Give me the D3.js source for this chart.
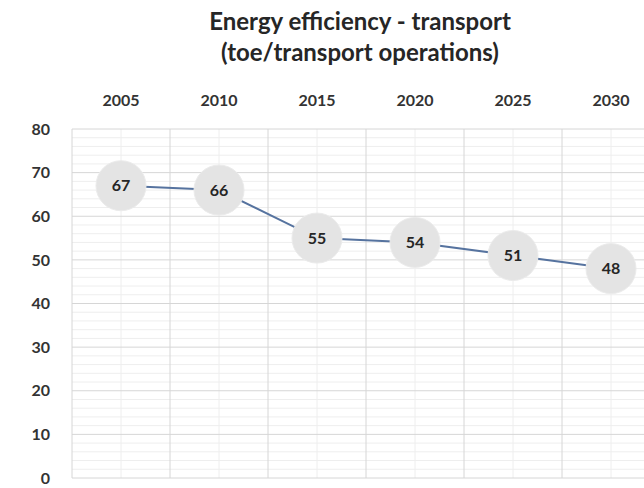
<!DOCTYPE html>
<html>
<head>
<meta charset="utf-8">
<script src="https://cdn.jsdelivr.net/npm/d3@7"></script>
<style>
  html, body { margin: 0; padding: 0; background: #fff; }
  svg { display: block; }
</style>
</head>
<body>
<svg id="chart" width="644" height="488"></svg>
<script>
const titleLines = ["Energy efficiency - transport", "(toe/transport operations)"];
const years = ["2005", "2010", "2015", "2020", "2025", "2030"];
const values = [67, 66, 55, 54, 51, 48];
const yTicks = [0, 10, 20, 30, 40, 50, 60, 70, 80];
const yMinorTicks = d3.range(0, 81, 2);

(function () {
const svg = d3.select("#chart");
const plotLeft = 72, bandW = 98, plotTop = 129, plotBottom = 478;

const x = d3.scaleBand().domain(years).range([plotLeft, plotLeft + bandW * years.length]).padding(0);
const y = d3.scaleLinear().domain([0, 80]).range([plotBottom, plotTop]);

const fontFam = "Lato, 'Open Sans', 'Noto Sans', sans-serif";

svg.append("g").selectAll("text").data(titleLines).join("text")
  .attr("x", 360).attr("y", (d, i) => 30 + i * 31)
  .attr("text-anchor", "middle")
  .attr("font-family", fontFam).attr("font-weight", 700)
  .attr("font-size", 24).attr("fill", "#262626")
  .text(d => d);

const grid = svg.append("g");
grid.selectAll(".hmin").data(yMinorTicks.filter(v => v % 10 !== 0)).join("line")
  .attr("x1", plotLeft).attr("x2", 644)
  .attr("y1", d => y(d)).attr("y2", d => y(d))
  .attr("stroke", "#eeeeee").attr("stroke-width", 1);
grid.selectAll(".vmin").data(years).join("line")
  .attr("x1", d => x(d) + x.bandwidth() / 2).attr("x2", d => x(d) + x.bandwidth() / 2)
  .attr("y1", plotTop).attr("y2", plotBottom)
  .attr("stroke", "#eeeeee").attr("stroke-width", 1);
grid.selectAll(".hmaj").data(yTicks).join("line")
  .attr("x1", plotLeft).attr("x2", 644)
  .attr("y1", d => y(d)).attr("y2", d => y(d))
  .attr("stroke", "#d6d6d6").attr("stroke-width", 1);
grid.selectAll(".vmaj").data(years).join("line")
  .attr("x1", d => x(d)).attr("x2", d => x(d))
  .attr("y1", plotTop).attr("y2", plotBottom)
  .attr("stroke", "#d6d6d6").attr("stroke-width", 1);

const yAxis = d3.axisLeft(y).tickValues(yTicks).tickSize(0).tickPadding(0);
const gy = svg.append("g").attr("transform", "translate(50,0)").call(yAxis);
gy.select(".domain").remove();
gy.selectAll("text").attr("font-family", fontFam).attr("font-weight", 700)
  .attr("font-size", 16).attr("fill", "#333").attr("text-anchor", "end");

const xAxis = d3.axisTop(x).tickSize(0).tickPadding(0);
const gx = svg.append("g").attr("transform", "translate(0,106)").call(xAxis);
gx.select(".domain").remove();
gx.selectAll("text").attr("font-family", fontFam).attr("font-weight", 700)
  .attr("font-size", 16).attr("fill", "#333");

const cx = d => x(d) + x.bandwidth() / 2;
const data = years.map((yr, i) => ({ yr, v: values[i] }));
svg.append("path").datum(data)
  .attr("fill", "none").attr("stroke", "#56739f").attr("stroke-width", 2)
  .attr("d", d3.line().x(d => cx(d.yr)).y(d => y(d.v)));

const pts = svg.append("g").selectAll("g").data(data).join("g")
  .attr("transform", d => `translate(${cx(d.yr)},${y(d.v)})`);
pts.append("circle").attr("r", 25).attr("fill", "#e4e4e4").attr("stroke", "#ebebeb");
pts.append("text").attr("text-anchor", "middle").attr("dy", "0.36em")
  .attr("font-family", fontFam).attr("font-weight", 700).attr("font-size", 16)
  .attr("fill", "#262626").text(d => d.v);
})();
</script>
</body>
</html>
